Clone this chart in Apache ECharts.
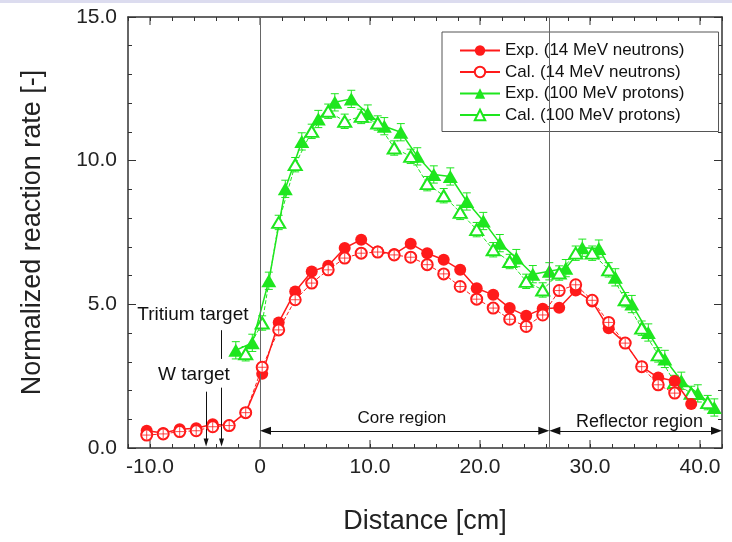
<!DOCTYPE html>
<html>
<head>
<meta charset="utf-8">
<script src="https://cdn.jsdelivr.net/npm/echarts@6/dist/echarts.min.js"></script>
<style>
html,body{margin:0;padding:0;background:#fff}
#chart{width:732px;height:542px}
</style>
</head>
<body>
<div id="chart"></div>
<script>
// positions of the foils (cm) and normalized rates
var xRed = [-10.3, -8.8, -7.3, -5.8, -4.3, -2.8, -1.3, 0.2, 1.7, 3.2, 4.7, 6.2, 7.7, 9.2, 10.7, 12.2, 13.7,
  15.2, 16.7, 18.2, 19.7, 21.2, 22.7, 24.2, 25.7, 27.2, 28.7, 30.2, 31.7, 33.2, 34.7, 36.2, 37.7, 39.2];
var redExp = [0.60, 0.52, 0.65, 0.69, 0.83, 0.78, 1.23, 2.58, 4.37, 5.45, 6.14, 6.34, 6.96, 7.25, 6.84, 6.75, 7.11,
  6.78, 6.55, 6.20, 5.56, 5.33, 4.87, 4.60, 4.85, 4.88, 5.48, 5.10, 4.17, 3.65, 2.83, 2.45, 2.33, 1.53];
var redCal = [0.45, 0.49, 0.57, 0.60, 0.74, 0.78, 1.23, 2.81, 4.11, 5.16, 5.74, 6.20, 6.61, 6.78, 6.82, 6.72, 6.64,
  6.38, 6.06, 5.62, 5.18, 4.87, 4.48, 4.23, 4.63, 5.48, 5.68, 5.14, 4.37, 3.65, 2.83, 2.20, 1.91];

var xGreenExp = [-2.2, -0.7, 0.8, 2.3, 3.8, 5.3, 6.8, 8.3, 9.8, 11.3, 12.8, 14.3, 15.8, 17.3, 18.8, 20.3, 21.8,
  23.3, 24.8, 26.3, 27.8, 29.3, 30.8, 32.3, 33.8, 35.3, 36.8, 38.3, 39.8, 41.3];
var greenExp = [3.40, 3.66, 5.82, 9.02, 10.67, 11.45, 12.03, 12.15, 11.64, 11.20, 10.99, 10.15, 9.52, 9.45, 8.58,
  7.90, 7.13, 6.61, 6.05, 6.15, 6.26, 6.97, 6.94, 5.94, 5.01, 4.02, 3.10, 2.34, 1.90, 1.41];
var xGreenCal = [-1.3, 0.2, 1.7, 3.2, 4.7, 6.2, 7.7, 9.2, 10.7, 12.2, 13.7, 15.2, 16.7, 18.2, 19.7, 21.2, 22.7,
  24.2, 25.7, 27.2, 28.7, 30.2, 31.7, 33.2, 34.7, 36.2, 37.7, 39.2, 40.7];
var greenCal = [3.28, 4.35, 7.85, 9.86, 11.02, 11.72, 11.37, 11.54, 11.31, 10.44, 10.15, 9.20, 8.78, 8.20, 7.60,
  6.90, 6.49, 5.80, 5.50, 6.09, 6.78, 6.78, 6.20, 5.16, 4.17, 3.24, 2.28, 1.90, 1.58];
var errGreenExp = 0.3;
var errGreenCal = 0.25;

var xMajor = [-10, 0, 10, 20, 30, 40];
var xMajorText = ['-10.0', '0', '10.0', '20.0', '30.0', '40.0'];
var yMajor = [0, 5, 10, 15];
var yMajorText = ['0.0', '5.0', '10.0', '15.0'];
var coreEdge = 26.3;

var names = ['Exp. (14 MeV neutrons)', 'Cal. (14 MeV neutrons)', 'Exp. (100 MeV protons)', 'Cal. (100 MeV protons)'];
var RED = '#ff1a1a', GREEN = '#1ee61e', AXIS = '#333';
var FONT = 'Liberation Sans, Arial, sans-serif';

function pairs(xs, ys) {
  return ys.map(function (v, i) { return [xs[i], v]; });
}

function errBar(err, color) {
  return function (params, api) {
    var x = api.value(0), y = api.value(1);
    var lo = api.coord([x, y - err]), hi = api.coord([x, y + err]);
    var w = 4, st = { stroke: color, lineWidth: 1 };
    return {
      type: 'group', children: [
        { type: 'line', shape: { x1: lo[0], y1: lo[1], x2: hi[0], y2: hi[1] }, style: st },
        { type: 'line', shape: { x1: lo[0] - w, y1: lo[1], x2: lo[0] + w, y2: lo[1] }, style: st },
        { type: 'line', shape: { x1: hi[0] - w, y1: hi[1], x2: hi[0] + w, y2: hi[1] }, style: st }
      ]
    };
  };
}

function xAxisCfg(pos) {
  return {
    type: 'value', position: pos, min: -12, max: 42, interval: 2,
    axisLine: { show: true, onZero: false, lineStyle: { color: AXIS, width: 1.5 } },
    axisTick: { show: true, inside: true, length: 4, lineStyle: { color: AXIS } },
    splitLine: { show: false },
    axisLabel: {
      show: pos === 'bottom', margin: 9, fontSize: 21, color: '#222', fontFamily: FONT,
      formatter: function (v) {
        var i = xMajor.indexOf(v);
        return i < 0 ? '' : xMajorText[i];
      }
    }
  };
}

function yAxisCfg(pos) {
  return {
    type: 'value', position: pos, min: 0, max: 15, interval: 5,
    axisLine: { show: true, onZero: false, lineStyle: { color: AXIS, width: 1.5 } },
    axisTick: { inside: true, length: 8, lineStyle: { color: AXIS } },
    minorTick: { show: true, splitNumber: 5, length: 4, lineStyle: { color: AXIS } },
    splitLine: { show: false },
    axisLabel: {
      show: pos === 'left', margin: 11, fontSize: 21, color: '#222', fontFamily: FONT,
      formatter: function (v) {
        var i = yMajor.indexOf(v);
        return i < 0 ? '' : yMajorText[i];
      }
    }
  };
}

var chart = echarts.init(document.getElementById('chart'));

var bottomX = xAxisCfg('bottom');
bottomX.name = 'Distance [cm]';
bottomX.nameLocation = 'middle';
bottomX.nameGap = 60;
bottomX.nameTextStyle = { fontSize: 27, color: '#222', fontFamily: FONT };

var leftY = yAxisCfg('left');
leftY.name = 'Normalized reaction rate [-]';
leftY.nameLocation = 'middle';
leftY.nameGap = 82;
leftY.nameTextStyle = { fontSize: 27, color: '#222', fontFamily: FONT };

var arrowH = { symbol: 'triangle', symbolSize: [8, 11] };
var arrowS = { symbol: 'triangle', symbolSize: [5, 8] };
var thin = { color: '#111', width: 1, type: 'solid' };

var option = {
  animation: false,
  backgroundColor: '#fff',
  textStyle: { fontFamily: FONT },
  grid: { left: 128, right: 10, top: 17, bottom: 94 },
  xAxis: [bottomX, xAxisCfg('top')],
  yAxis: [leftY, yAxisCfg('right')],
  legend: {
    data: [
      { name: names[0] },
      { name: names[1], lineStyle: { type: 'solid' } },
      { name: names[2] },
      { name: names[3], lineStyle: { type: 'solid' } }
    ],
    orient: 'vertical', left: 442, top: 32,
    padding: [10, 34, 8, 17], itemGap: 4.5, itemWidth: 40, itemHeight: 13,
    backgroundColor: '#fff', borderColor: '#555', borderWidth: 1,
    textStyle: { fontSize: 17, color: '#111', fontFamily: FONT, lineHeight: 17 }
  },
  graphic: [{ type: 'rect', left: 0, top: 0, shape: { width: 732, height: 3 }, style: { fill: '#dcdcef' } }],
  series: [
    {
      type: 'custom', name: 'majorTicks', silent: true, clip: false,
      data: xMajor.map(function (v) { return [v, 0]; }),
      encode: { x: 0, y: 1 },
      renderItem: function (params, api) {
        var x = api.value(0);
        var b = api.coord([x, 0]), t = api.coord([x, 15]);
        var st = { stroke: AXIS, lineWidth: 1 };
        return {
          type: 'group', children: [
            { type: 'line', shape: { x1: b[0], y1: b[1], x2: b[0], y2: b[1] - 8 }, style: st },
            { type: 'line', shape: { x1: t[0], y1: t[1], x2: t[0], y2: t[1] + 8 }, style: st }
          ]
        };
      }
    },
    {
      type: 'custom', name: 'errGE', silent: true, z: 2,
      data: pairs(xGreenExp, greenExp), encode: { x: 0, y: 1 },
      renderItem: errBar(errGreenExp, GREEN)
    },
    {
      type: 'custom', name: 'errGC', silent: true, z: 2,
      data: pairs(xGreenCal, greenCal), encode: { x: 0, y: 1 },
      renderItem: errBar(errGreenCal, GREEN)
    },
    {
      name: names[2], type: 'line', z: 3,
      data: pairs(xGreenExp, greenExp),
      symbol: 'triangle', symbolSize: [15, 13],
      itemStyle: { color: GREEN },
      lineStyle: { color: GREEN, width: 1.5 }
    },
    {
      name: names[3], type: 'line', z: 3,
      data: pairs(xGreenCal, greenCal),
      symbol: 'emptyTriangle', symbolSize: [13, 11],
      itemStyle: { color: GREEN, borderWidth: 1 },
      lineStyle: { color: GREEN, width: 1, type: [4, 2] }
    },
    {
      name: names[0], type: 'line', z: 4,
      data: pairs(xRed, redExp),
      symbol: 'circle', symbolSize: 12,
      itemStyle: { color: RED },
      lineStyle: { color: RED, width: 1.5 },
      markLine: {
        silent: true, animation: false, symbol: ['none', 'none'],
        label: { show: false },
        lineStyle: { color: '#666', width: 1, type: 'solid' },
        data: [
          [{ coord: [0, 0] }, { coord: [0, 15] }],
          [{ coord: [coreEdge, 0] }, { coord: [coreEdge, 15] }],
          [Object.assign({ coord: [0.5, 0.6], lineStyle: thin }, arrowH), Object.assign({ coord: [coreEdge - 0.5, 0.6] }, arrowH)],
          [Object.assign({ coord: [coreEdge + 0.5, 0.6], lineStyle: thin }, arrowH), Object.assign({ coord: [41.5, 0.6] }, arrowH)],
          [{ coord: [-4.9, 1.96], lineStyle: thin }, Object.assign({ coord: [-4.9, 0.19] }, arrowS)],
          [{ coord: [-3.5, 4.1], lineStyle: thin }, { coord: [-3.5, 3.1] }],
          [{ coord: [-3.5, 2.1], lineStyle: thin }, Object.assign({ coord: [-3.5, 0.19] }, arrowS)]
        ]
      }
    },
    {
      name: names[1], type: 'line', z: 5,
      data: pairs(xRed, redCal),
      symbol: 'emptyCircle', symbolSize: 11,
      itemStyle: { color: RED, borderWidth: 1 },
      lineStyle: { color: RED, width: 1, type: [4, 2] }
    },
    {
      type: 'scatter', name: 'calCross', silent: true, z: 6,
      data: pairs(xRed, redCal),
      symbol: 'path://M-1,0L1,0M0,-1L0,1', symbolSize: 9,
      itemStyle: { color: 'none', borderColor: RED, borderWidth: 1 }
    }
  ]
};

chart.setOption(option);

// text annotations placed in data coordinates
var notes = [
  { text: 'Tritium target', x: -6.1, y: 4.63, size: 19 },
  { text: 'W target', x: -6.0, y: 2.56, size: 19 },
  { text: 'Core region', x: 12.9, y: 1.05, size: 17 },
  { text: 'Reflector region', x: 34.5, y: 0.92, size: 18 }
];
var g = option.graphic.slice();
notes.forEach(function (n) {
  var p = chart.convertToPixel({ seriesIndex: 3 }, [n.x, n.y]);
  g.push({
    type: 'text', x: p[0], y: p[1], z: 10,
    style: { text: n.text, fontSize: n.size, fontFamily: FONT, fill: '#111', align: 'center', verticalAlign: 'middle' }
  });
});
chart.setOption({ graphic: g });
</script>
</body>
</html>
